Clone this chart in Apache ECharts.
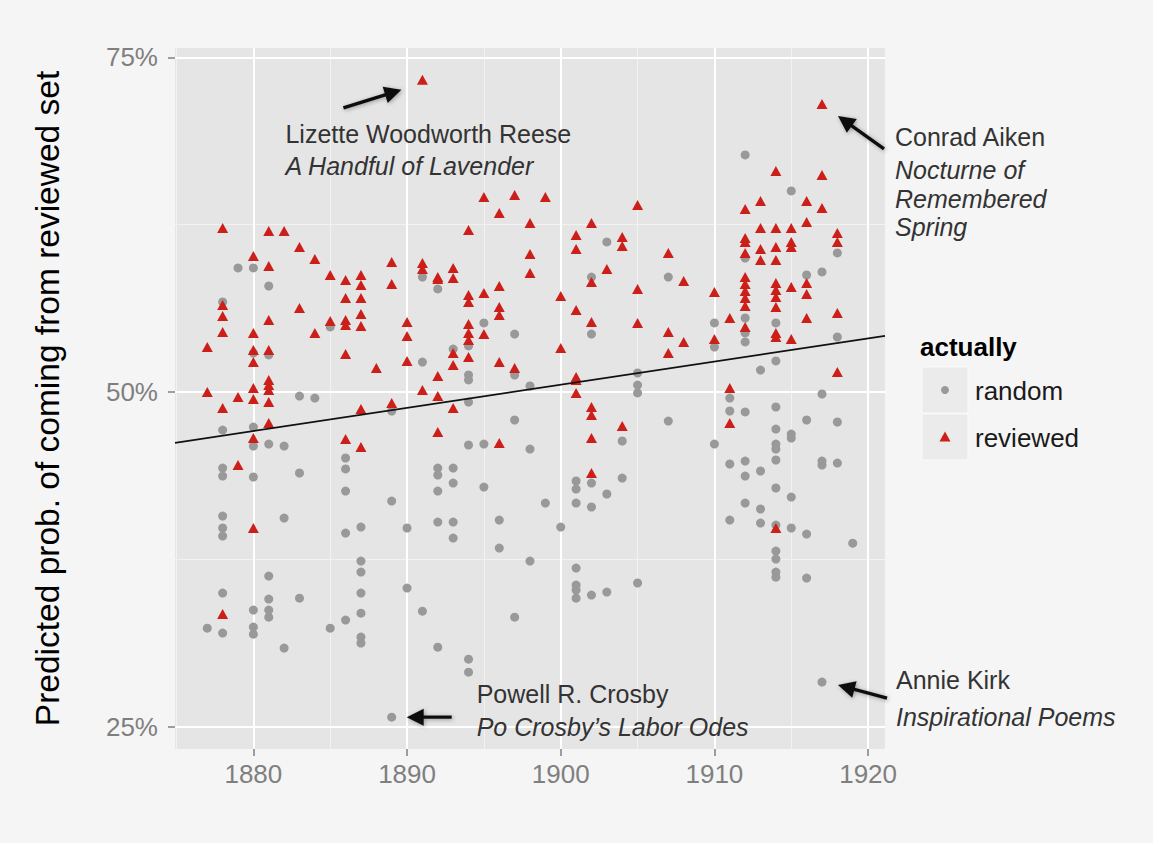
<!DOCTYPE html>
<html><head><meta charset="utf-8">
<script src="https://cdn.jsdelivr.net/npm/echarts@6/dist/echarts.min.js"></script>
<style>html,body{margin:0;padding:0;background:#F5F5F5;}#c{width:1153px;height:843px;}</style>
</head><body><div id="c"></div>
<script>
// ---- data ----
const xTicks = [1880, 1890, 1900, 1910, 1920];
const xMinorTicks = [1875, 1885, 1895, 1905, 1915];
const yTicks = [25, 50, 75];
const yTickLabels = ['25%', '50%', '75%'];
const yMinorTicks = [37.5, 62.5];
const seriesNames = ['random', 'reviewed'];
const legendTitle = 'actually';
const yTitle = 'Predicted prob. of coming from reviewed set';

const randomPoints = [
[1877,32.36],
[1878,56.73],[1878,47.16],[1878,44.32],[1878,43.72],[1878,40.73],[1878,39.84],[1878,39.24],[1878,34.98],[1878,31.99],
[1879,59.27],
[1880,59.27],[1880,52.91],[1880,47.38],[1880,45.96],[1880,43.65],[1880,33.71],[1880,32.44],[1880,31.91],
[1881,57.92],[1881,52.77],[1881,46.11],[1881,36.25],[1881,34.53],[1881,33.71],[1881,33.18],
[1882,45.96],[1882,40.58],[1882,30.87],
[1883,49.70],[1883,43.95],[1883,34.60],
[1884,49.55],
[1885,54.86],[1885,32.36],
[1886,45.07],[1886,44.25],[1886,42.60],[1886,39.46],[1886,32.96],
[1887,39.91],[1887,37.37],[1887,36.55],[1887,34.98],[1887,33.48],[1887,31.69],[1887,31.24],
[1889,48.58],[1889,41.85],[1889,25.71],
[1890,39.84],[1890,35.35],
[1891,58.59],[1891,52.24],[1891,33.63],
[1892,57.70],[1892,44.32],[1892,43.80],[1892,42.60],[1892,40.28],[1892,30.94],
[1893,53.21],[1893,44.32],[1893,43.20],[1893,40.28],[1893,39.09],
[1894,53.44],[1894,51.27],[1894,50.90],[1894,49.25],[1894,46.04],[1894,30.04],[1894,29.07],
[1895,55.16],[1895,46.11],[1895,42.90],
[1896,40.43],[1896,38.34],
[1897,54.33],[1897,51.27],[1897,47.91],[1897,33.18],
[1898,50.45],[1898,45.74],[1898,37.37],
[1899,41.70],
[1900,39.91],
[1901,43.35],[1901,42.75],[1901,41.70],[1901,36.85],[1901,35.58],[1901,35.20],[1901,34.60],
[1902,58.59],[1902,54.33],[1902,43.20],[1902,41.41],[1902,34.83],
[1903,61.21],[1903,42.38],[1903,35.05],
[1904,46.34],[1904,43.57],
[1905,51.42],[1905,50.52],[1905,49.93],[1905,35.73],
[1907,58.59],[1907,47.83],
[1910,55.16],[1910,53.36],[1910,46.11],
[1911,49.55],[1911,48.58],[1911,44.62],[1911,40.43],
[1912,67.71],[1912,60.01],[1912,55.53],[1912,54.41],[1912,53.74],[1912,48.51],[1912,44.84],[1912,43.72],[1912,41.70],
[1913,51.64],[1913,44.10],[1913,41.26],[1913,40.21],
[1914,55.16],[1914,52.32],[1914,48.88],[1914,47.23],[1914,46.11],[1914,45.74],[1914,44.92],[1914,42.83],[1914,40.06],[1914,38.12],[1914,37.52],[1914,36.55],[1914,36.17],
[1915,65.02],[1915,46.86],[1915,46.56],[1915,42.15],[1915,39.84],
[1916,58.74],[1916,47.91],[1916,39.39],[1916,36.10],
[1917,58.97],[1917,49.85],[1917,44.84],[1917,44.54],[1917,28.33],
[1918,60.39],[1918,54.11],[1918,47.76],[1918,44.69],
[1919,38.71]
];

const reviewedPoints = [
[1877,53.36],[1877,50.00],
[1878,62.26],[1878,56.50],[1878,55.68],[1878,54.48],[1878,48.80],[1878,33.41],
[1879,49.63],[1879,44.54],
[1880,60.16],[1880,54.41],[1880,53.14],[1880,52.24],[1880,50.30],[1880,49.48],[1880,46.56],[1880,39.84],
[1881,62.03],[1881,59.42],[1881,55.38],[1881,53.14],[1881,50.90],[1881,50.52],[1881,50.15],[1881,49.25],[1881,47.68],
[1882,62.03],
[1883,60.84],[1883,56.28],
[1884,59.94],[1884,54.41],
[1885,58.74],[1885,55.31],
[1886,58.37],[1886,57.03],[1886,55.38],[1886,55.01],[1886,52.84],[1886,46.49],
[1887,58.74],[1887,58.00],[1887,57.03],[1887,55.83],[1887,54.93],[1887,48.73],[1887,45.89],
[1888,51.79],
[1889,59.72],[1889,58.07],[1889,49.18],
[1890,55.23],[1890,54.19],[1890,52.32],
[1891,73.32],[1891,59.64],[1891,59.19],[1891,50.15],
[1892,58.59],[1892,58.45],[1892,51.20],[1892,49.70],[1892,47.01],
[1893,59.27],[1893,58.52],[1893,52.91],[1893,52.02],[1893,48.80],
[1894,62.11],[1894,57.25],[1894,56.73],[1894,55.08],[1894,54.41],[1894,53.89],[1894,52.62],
[1895,64.57],[1895,57.40],[1895,54.33],
[1896,63.38],[1896,57.92],[1896,56.35],[1896,55.75],[1896,52.24],[1896,46.19],
[1897,64.72],[1897,51.79],
[1898,62.63],[1898,60.31],[1898,58.89],
[1899,64.57],
[1900,57.17],[1900,53.29],
[1901,61.73],[1901,60.69],[1901,56.13],[1901,51.12],[1901,50.90],[1901,49.93],
[1902,62.63],[1902,58.22],[1902,55.23],[1902,48.88],[1902,48.28],[1902,46.56],[1902,43.95],
[1903,59.19],
[1904,61.58],[1904,60.91],[1904,47.46],
[1905,63.98],[1905,57.70],[1905,55.16],
[1907,60.39],[1907,54.48],[1907,52.91],
[1908,58.30],[1908,53.74],
[1910,57.47],[1910,53.96],
[1911,55.53],[1911,50.30],[1911,47.68],
[1912,63.68],[1912,61.51],[1912,61.21],[1912,60.39],[1912,58.59],[1912,58.07],[1912,57.55],[1912,57.03],[1912,56.43],[1912,54.86],
[1913,64.27],[1913,62.26],[1913,60.69],[1913,59.87],
[1914,66.52],[1914,62.26],[1914,60.84],[1914,59.87],[1914,58.15],[1914,57.62],[1914,57.10],[1914,56.35],[1914,54.41],[1914,54.11],[1914,39.84],
[1915,62.26],[1915,61.21],[1915,60.84],[1915,57.85],[1915,53.96],
[1916,64.27],[1916,62.71],[1916,58.15],[1916,57.32],[1916,55.53],
[1917,71.52],[1917,66.22],[1917,63.75],
[1918,61.88],[1918,61.21],[1918,55.90],[1918,51.49]
];

// fitted trend line end points
const trendLine = [[1874.9, 46.2], [1921.1, 54.2]];

// annotated books
const annoAuthors = ['Lizette Woodworth Reese', 'Conrad Aiken', 'Powell R. Crosby', 'Annie Kirk'];
const annoTitles = [['A Handful of Lavender'], ['Nocturne of', 'Remembered', 'Spring'], ['Po Crosby\u2019s Labor Odes'], ['Inspirational Poems']];
const annoPoints = [[1891, 73.32], [1917, 71.52], [1889, 25.71], [1917, 28.33]];

// ---- chart ----
const FONT = "'Liberation Sans', Arial, Helvetica, sans-serif";
const GREY = '#999999', RED = '#CC1F1A';
const chart = echarts.init(document.getElementById('c'), null, {renderer: 'svg'});

const gridLines = [].concat(
  xMinorTicks.map(v => ({xAxis: v, lineStyle: {color: '#F2F2F2', width: 1, type: 'solid'}})),
  yMinorTicks.map(v => ({yAxis: v, lineStyle: {color: '#F2F2F2', width: 1, type: 'solid'}})),
  xTicks.map(v => ({xAxis: v, lineStyle: {color: '#FFFFFF', width: 2, type: 'solid'}})),
  yTicks.map(v => ({yAxis: v, lineStyle: {color: '#FFFFFF', width: 2, type: 'solid'}}))
);

chart.setOption({
  animation: false,
  backgroundColor: '#F5F5F5',
  grid: {left: 175, right: 268, top: 48, bottom: 94, show: true, backgroundColor: '#E5E5E5', borderWidth: 0},
  xAxis: {
    type: 'value', min: 1874.9, max: 1921.1,
    axisLine: {show: false},
    splitLine: {show: false},
    axisTick: {show: true, customValues: xTicks, length: 7, lineStyle: {color: '#7F7F7F', width: 1.5}},
    axisLabel: {customValues: xTicks, color: '#7F7F7F', fontSize: 26, fontFamily: FONT, margin: 12,
      formatter: v => String(v)}
  },
  yAxis: {
    type: 'value', min: 23.33, max: 75.7,
    axisLine: {show: false},
    splitLine: {show: false},
    axisTick: {show: true, customValues: yTicks, length: 7, lineStyle: {color: '#7F7F7F', width: 1.5}},
    axisLabel: {customValues: yTicks, color: '#7F7F7F', fontSize: 26, fontFamily: FONT, margin: 17,
      formatter: v => yTickLabels[yTicks.indexOf(v)] || ''},
    name: yTitle, nameLocation: 'middle', nameGap: 111,
    nameTextStyle: {fontSize: 33.5, fontFamily: FONT, color: '#000'}
  },
  series: [
    {name: seriesNames[0], type: 'scatter', data: randomPoints, symbol: 'circle', symbolSize: 9, z: 2,
     itemStyle: {color: GREY, opacity: 1}, silent: true,
     markLine: {z: 1, silent: true, symbol: ['none', 'none'], label: {show: false}, animation: false, data: gridLines}},
    {name: seriesNames[1], type: 'scatter', data: reviewedPoints, symbol: 'triangle', symbolSize: [11, 10], z: 3,
     itemStyle: {color: RED, opacity: 1}, silent: true},
    {type: 'line', data: trendLine, symbol: 'none', z: 4, silent: true,
     lineStyle: {color: '#111', width: 1.7}}
  ]
});

// ---- annotations & legend ----
function arrow(x1, y1, x2, y2) {
  const dx = x2 - x1, dy = y2 - y1, L = Math.hypot(dx, dy), ux = dx / L, uy = dy / L;
  const hl = 17, hw = 8.5, sw = 1.7;
  const bx = x2 - ux * hl, by = y2 - uy * hl;
  const nx = -uy, ny = ux;
  return {type: 'polygon', silent: true, z: 20,
    shape: {points: [
      [x1 + nx * sw, y1 + ny * sw], [bx + nx * sw, by + ny * sw], [bx + nx * hw, by + ny * hw],
      [x2, y2],
      [bx - nx * hw, by - ny * hw], [bx - nx * sw, by - ny * sw], [x1 - nx * sw, y1 - ny * sw]
    ]},
    style: {fill: '#111', shadowBlur: 4, shadowColor: 'rgba(0,0,0,0.35)', shadowOffsetX: 1, shadowOffsetY: 1}};
}
function txt(x, y, s, opts) {
  return {type: 'text', silent: true, z: 20, x: x, y: y,
    style: Object.assign({text: s, fill: '#333', fontSize: 25, fontFamily: FONT, align: 'left', verticalAlign: 'middle'}, opts || {})};
}

// layout offsets (pixels) relative to each annotated point
const layout = [
  {tail: [-79, 28], tip: [-21, 10], tx: -137, ty: [54, 86]},
  {tail: [62, 45], tip: [16, 12], tx: 73, ty: [33, 66, 95, 123]},
  {tail: [60, 0], tip: [15, 0], tx: 85, ty: [-23, 10]},
  {tail: [65, 16], tip: [16, 3], tx: 74, ty: [-2, 35]}
];

const g = [];
annoPoints.forEach((p, i) => {
  const px = chart.convertToPixel({gridIndex: 0}, p);
  const L = layout[i];
  g.push(arrow(px[0] + L.tail[0], px[1] + L.tail[1], px[0] + L.tip[0], px[1] + L.tip[1]));
  g.push(txt(px[0] + L.tx, px[1] + L.ty[0], annoAuthors[i]));
  annoTitles[i].forEach((t, j) => g.push(txt(px[0] + L.tx, px[1] + L.ty[j + 1], t, {fontStyle: 'italic'})));
});

// legend
g.push({type: 'text', silent: true, z: 20, x: 920, y: 347,
  style: {text: legendTitle, fill: '#000', fontSize: 26, fontWeight: 'bold', fontFamily: FONT, verticalAlign: 'middle'}});
g.push({type: 'rect', silent: true, z: 20, shape: {x: 922, y: 367, width: 46, height: 46}, style: {fill: '#EBEBEB', stroke: '#FAFAFA', lineWidth: 1}});
g.push({type: 'rect', silent: true, z: 20, shape: {x: 922, y: 414, width: 46, height: 46}, style: {fill: '#EBEBEB', stroke: '#FAFAFA', lineWidth: 1}});
g.push({type: 'circle', silent: true, z: 21, shape: {cx: 945, cy: 390, r: 4}, style: {fill: GREY}});
g.push({type: 'polygon', silent: true, z: 21, shape: {points: [[945, 431.5], [950.5, 441.5], [939.5, 441.5]]}, style: {fill: RED}});
g.push({type: 'text', silent: true, z: 20, x: 975, y: 391, style: {text: seriesNames[0], fill: '#1a1a1a', fontSize: 26, fontFamily: FONT, verticalAlign: 'middle'}});
g.push({type: 'text', silent: true, z: 20, x: 975, y: 438, style: {text: seriesNames[1], fill: '#1a1a1a', fontSize: 26, fontFamily: FONT, verticalAlign: 'middle'}});

chart.setOption({graphic: g});
</script></body></html>
